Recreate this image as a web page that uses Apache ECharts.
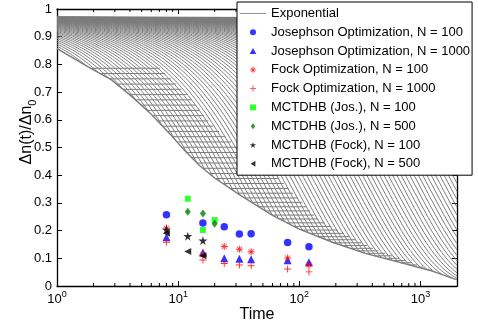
<!DOCTYPE html>
<html>
<head>
<meta charset="utf-8">
<script src="https://cdn.jsdelivr.net/npm/echarts@6/dist/echarts.min.js"></script>
<style>html,body{margin:0;padding:0;background:#fff}#c{width:478px;height:328px}</style>
</head>
<body>
<div id="c"></div>
<script>
// ---------------- data ----------------
const FONT = '"Liberation Sans", Arial, Helvetica, sans-serif';

// scatter series (time, Δn(t)/Δn0)
const josN100T = [8, 16, 24, 32, 40, 80, 120];
const josN100Y = [0.257, 0.227, 0.214, 0.188, 0.189, 0.157, 0.142];
const josN1000T = [8, 16, 24, 32, 40, 80, 120];
const josN1000Y = [0.176, 0.121, 0.100, 0.098, 0.097, 0.093, 0.086];
const fockN100T = [8, 16, 24, 32, 40, 80, 120];
const fockN100Y = [0.209, 0.113, 0.143, 0.133, 0.124, 0.101, 0.076];
const fockN1000T = [8, 16, 24, 32, 40, 80, 120];
const fockN1000Y = [0.158, 0.094, 0.081, 0.076, 0.073, 0.061, 0.051];
const mctJosN100T = [12, 16, 20];
const mctJosN100Y = [0.315, 0.202, 0.238];
const mctJosN500T = [12, 16, 20];
const mctJosN500Y = [0.268, 0.262, 0.225];
const mctFockN100T = [8, 12, 16];
const mctFockN100Y = [0.203, 0.180, 0.164];
const mctFockN500T = [8, 12, 16];
const mctFockN500Y = [0.190, 0.125, 0.109];

// exponential family: amplitude and decay times (estimated from line density)
const expAmp = 0.97;
const expTau = [8.1, 8.79, 9.54, 10.35, 11.23, 12.18, 13.21, 14.34, 15.56, 16.88,
  18.31, 19.87, 21.56, 23.39, 25.38, 27.54, 29.88, 32.42, 35.17, 38.16,
  41.41, 44.93, 48.75, 52.89, 57.38, 62.26, 67.55, 73.29, 79.52, 86.28,
  93.62, 101.6, 110.2, 119.6, 129.7, 140.7, 152.7, 165.7, 179.8, 195.0,
  211.6, 229.6, 249.1, 270.3, 293.3, 318.2, 345.2, 374.6, 406.4, 441.0,
  478.4, 519.1, 563.2, 611.1, 663.0, 719.4, 780.5, 846.9, 918.9, 997.0,
  1082, 1174, 1273, 1382, 1499, 1627, 1765, 1915, 2078, 2254,
  2446, 2654, 2880, 3125, 3390, 3680, 4000, 4700, 5500, 6500,
  8000, 10000, 14000, 20000, 40000, 100000];
// lower boundary of the exponential bundle (time, value)
const envT = [1, 1.9, 2.8, 4, 6, 8.5, 11, 15, 20, 32, 60, 100, 190, 350, 660, 1250, 2000];
const envY = [0.857, 0.786, 0.745, 0.69, 0.62, 0.55, 0.495, 0.435, 0.39, 0.33, 0.255, 0.205, 0.157, 0.118, 0.086, 0.054, 0.022];
// right edge of the horizontal hatching (time, value)
const edgeT = [6.9, 12.4, 18.9, 33, 60, 86, 104, 140, 275, 430, 960, 2000];
const edgeY = [0.79, 0.681, 0.581, 0.49, 0.412, 0.341, 0.305, 0.244, 0.172, 0.13, 0.075, 0.022];
// levels of the horizontal hatch lines
const hatchY = [0.786, 0.767, 0.748, 0.729, 0.710, 0.691, 0.672, 0.653, 0.634, 0.615,
  0.596, 0.577, 0.558, 0.539, 0.520, 0.501, 0.482, 0.463, 0.444, 0.425,
  0.406, 0.388, 0.370, 0.352, 0.335, 0.318, 0.302, 0.286, 0.271, 0.256,
  0.242, 0.228, 0.215, 0.202, 0.190, 0.178, 0.167, 0.156, 0.146, 0.136,
  0.127, 0.118, 0.109, 0.100, 0.092, 0.084, 0.076, 0.068, 0.060, 0.052,
  0.045, 0.038, 0.031, 0.024];

// axis ticks
const xMin = 1, xMax = 2000;
const minorTickT = [2,3,4,5,6,7,8,9,20,30,40,50,60,70,80,90,200,300,400,500,600,700,800,900];

// ---------------- helpers ----------------
const L = Math.log10;
function polyAt(t, tt, yy) {
  const u = L(t);
  for (let i = 0; i < tt.length - 1; i++) {
    const u0 = L(tt[i]), u1 = L(tt[i + 1]);
    if (u <= u1) { const f = (u - u0) / (u1 - u0); return yy[i] + f * (yy[i + 1] - yy[i]); }
  }
  return yy[yy.length - 1];
}
function polyInv(y, tt, yy) {
  for (let i = 0; i < yy.length - 1; i++) {
    if (y <= yy[i] && y >= yy[i + 1]) {
      const f = (yy[i] - y) / (yy[i] - yy[i + 1]);
      return Math.pow(10, L(tt[i]) + f * (L(tt[i + 1]) - L(tt[i])));
    }
  }
  return null;
}
function expCurve(tau) {
  const pts = [];
  const N = 180, span = L(xMax);
  let prevT = null;
  for (let k = 0; k <= N; k++) {
    const t = Math.pow(10, k * span / N);
    const y = expAmp * Math.exp(-t / tau);
    if (y < polyAt(t, envT, envY)) {
      if (prevT !== null) {
        let a = prevT, b = t;
        for (let j = 0; j < 30; j++) {
          const m = Math.sqrt(a * b);
          if (expAmp * Math.exp(-m / tau) < polyAt(m, envT, envY)) b = m; else a = m;
        }
        pts.push([a, expAmp * Math.exp(-a / tau)]);
      }
      break;
    }
    pts.push([t, y]);
    prevT = t;
  }
  return pts;
}
const zip = (a, b) => a.map((v, i) => [v, b[i]]);

// ---------------- symbols ----------------
const SYM_STAR = 'path://M0,-10 L2.245,-3.09 L9.51,-3.09 L3.633,1.18 L5.88,8.09 L0,3.82 L-5.88,8.09 L-3.633,1.18 L-9.51,-3.09 L-2.245,-3.09 Z';
const SYM_PLUS = 'path://M-0.7,-5 L0.7,-5 L0.7,5 L-0.7,5 Z M-5,-0.7 L5,-0.7 L5,0.7 L-5,0.7 Z';
const SYM_AST = 'path://M-0.7,-5 L0.7,-5 L0.7,5 L-0.7,5 Z M-5,-0.7 L5,-0.7 L5,0.7 L-5,0.7 Z M-3.1,-3.9 L3.9,3.1 L3.1,3.9 L-3.9,-3.1 Z M3.1,-3.9 L3.9,-3.1 L-3.1,3.9 L-3.9,3.1 Z';
const SYM_LTRI = 'path://M0,5 L8,0 L8,10 Z';
const SYM_TRI = 'path://M0,-5 L5,4 L-5,4 Z';
const SYM_SQ = 'path://M-5,-5 L5,-5 L5,5 L-5,5 Z';
const SYM_DIA = 'path://M0,-5 L3.6,0 L0,5 L-3.6,0 Z';
const SYM_LINE = 'path://M0,0 L30,0 L30,1 L0,1 Z';

// ---------------- series ----------------
const GRAY = '#7c7c7c';
const series = [];
function addLine(data, w) {
  series.push({
    type: 'line', name: 'Exponential', data: data, showSymbol: false, symbol: 'none',
    lineStyle: { color: GRAY, width: w }, itemStyle: { color: GRAY },
    silent: true, animation: false, z: 2
  });
}
expTau.forEach(tau => { const d = expCurve(tau); if (d.length > 1) addLine(d, 1); });
hatchY.forEach(y => {
  const t0 = polyInv(y, envT, envY);
  const t1 = polyInv(y, edgeT, edgeY);
  if (t0 && t1 && t1 > t0) addLine([[t0, y], [Math.min(t1, xMax), y]], 1);
});
addLine(zip(envT, envY), 1.4);

function addScatter(name, T, Y, symbol, size, color) {
  series.push({
    type: 'scatter', name: name, data: zip(T, Y), symbol: symbol, symbolSize: size,
    itemStyle: { color: color }, silent: true, animation: false, z: 5
  });
}
addScatter('Josephson Optimization, N = 100', josN100T, josN100Y, 'circle', 7.5, '#0000ff');
addScatter('Josephson Optimization, N = 1000', josN1000T, josN1000Y, SYM_TRI, 8, '#0000ff');
addScatter('Fock Optimization, N = 100', fockN100T, fockN100Y, SYM_AST, 7, '#ff0000');
addScatter('Fock Optimization, N = 1000', fockN1000T, fockN1000Y, SYM_PLUS, 7, '#ff0000');
addScatter('MCTDHB (Jos.), N = 100', mctJosN100T, mctJosN100Y, SYM_SQ, 6, '#00ff00');
addScatter('MCTDHB (Jos.), N = 500', mctJosN500T, mctJosN500Y, SYM_DIA, [6, 8], '#008000');
addScatter('MCTDHB (Fock), N = 100', mctFockN100T, mctFockN100Y, SYM_STAR, 9, '#000000');
addScatter('MCTDHB (Fock), N = 500', mctFockN500T, mctFockN500Y, SYM_LTRI, 7, '#000000');

// minor log ticks on bottom and top edges
series.push({
  type: 'custom', name: 'minorTicks', silent: true, animation: false, z: 3,
  data: minorTickT.map(t => [t, 0]),
  encode: { x: 0, y: 1 },
  renderItem: function (params, api) {
    const t = api.value(0);
    const b = api.coord([t, 0]);
    const tp = api.coord([t, 1]);
    return { type: 'group', children: [
      { type: 'line', shape: { x1: b[0], y1: b[1], x2: b[0], y2: b[1] - 3 }, style: { stroke: '#000', lineWidth: 1 } },
      { type: 'line', shape: { x1: tp[0], y1: tp[1], x2: tp[0], y2: tp[1] + 3 }, style: { stroke: '#000', lineWidth: 1 } }
    ] };
  }
});

function xLabel(v) {
  const e = Math.round(L(v));
  if (Math.abs(v - Math.pow(10, e)) > 1e-6 * v) return '';
  return '{b|10}{s|' + e + '}';
}
const axisLine = { show: true, onZero: false, lineStyle: { color: '#000', width: 1.3 } };

const option = {
  backgroundColor: '#fff',
  animation: false,
  grid: { left: 57, right: 21, top: 9, bottom: 40 },
  xAxis: [{
    type: 'log', logBase: 10, min: xMin, max: xMax, position: 'bottom',
    axisLine: axisLine,
    axisTick: { show: true, inside: true, length: 5, lineStyle: { color: '#000' } },
    splitLine: { show: false },
    axisLabel: {
      margin: 4, formatter: xLabel, color: '#000',
      rich: {
        b: { fontSize: 13, fontFamily: FONT, color: '#000', lineHeight: 18 },
        s: { fontSize: 9, fontFamily: FONT, color: '#000', verticalAlign: 'top' }
      }
    },
    name: 'Time', nameLocation: 'middle', nameGap: 21, nameMoveOverlap: false,
    nameTextStyle: { fontSize: 16, fontFamily: FONT, color: '#000' }
  }, {
    type: 'log', logBase: 10, min: xMin, max: xMax, position: 'top',
    axisLine: axisLine,
    axisTick: { show: true, inside: true, length: 5, lineStyle: { color: '#000' } },
    splitLine: { show: false }, axisLabel: { show: false }
  }],
  yAxis: [{
    type: 'value', min: 0, max: 1, interval: 0.1, position: 'left',
    axisLine: axisLine,
    axisTick: { show: true, inside: true, length: 5, lineStyle: { color: '#000' } },
    splitLine: { show: false },
    axisLabel: { margin: 5, fontSize: 13, fontFamily: FONT, color: '#000' }
  }, {
    type: 'value', min: 0, max: 1, interval: 0.1, position: 'right',
    axisLine: axisLine,
    axisTick: { show: true, inside: true, length: 5, lineStyle: { color: '#000' } },
    splitLine: { show: false }, axisLabel: { show: false }
  }],
  graphic: [{
    type: 'text', x: 27, y: 132, rotation: Math.PI / 2, silent: true,
    style: {
      text: '{a|Δn(t)/Δn}{s|0}', align: 'center', verticalAlign: 'middle',
      rich: {
        a: { fontSize: 16, fontFamily: FONT, fill: '#000', lineHeight: 22 },
        s: { fontSize: 11, fontFamily: FONT, fill: '#000', verticalAlign: 'bottom' }
      }
    }
  }],
  legend: {
    orient: 'vertical', left: 237, top: 2, padding: [4, 2, 4, 3], itemGap: 4,
    itemWidth: 26, itemHeight: 6, selectedMode: false,
    backgroundColor: '#fff', borderColor: '#000', borderWidth: 1, borderRadius: 0,
    textStyle: { fontSize: 13, fontFamily: FONT, color: '#000', lineHeight: 14.8 },
    data: [{ name: 'Exponential', icon: SYM_LINE },
      'Josephson Optimization, N = 100', 'Josephson Optimization, N = 1000',
      'Fock Optimization, N = 100', 'Fock Optimization, N = 1000', 'MCTDHB (Jos.), N = 100',
      'MCTDHB (Jos.), N = 500', 'MCTDHB (Fock), N = 100', 'MCTDHB (Fock), N = 500']
  },
  series: series
};
const chart = echarts.init(document.getElementById('c'), null, { renderer: 'canvas' });
chart.setOption(option);
</script>
</body>
</html>
